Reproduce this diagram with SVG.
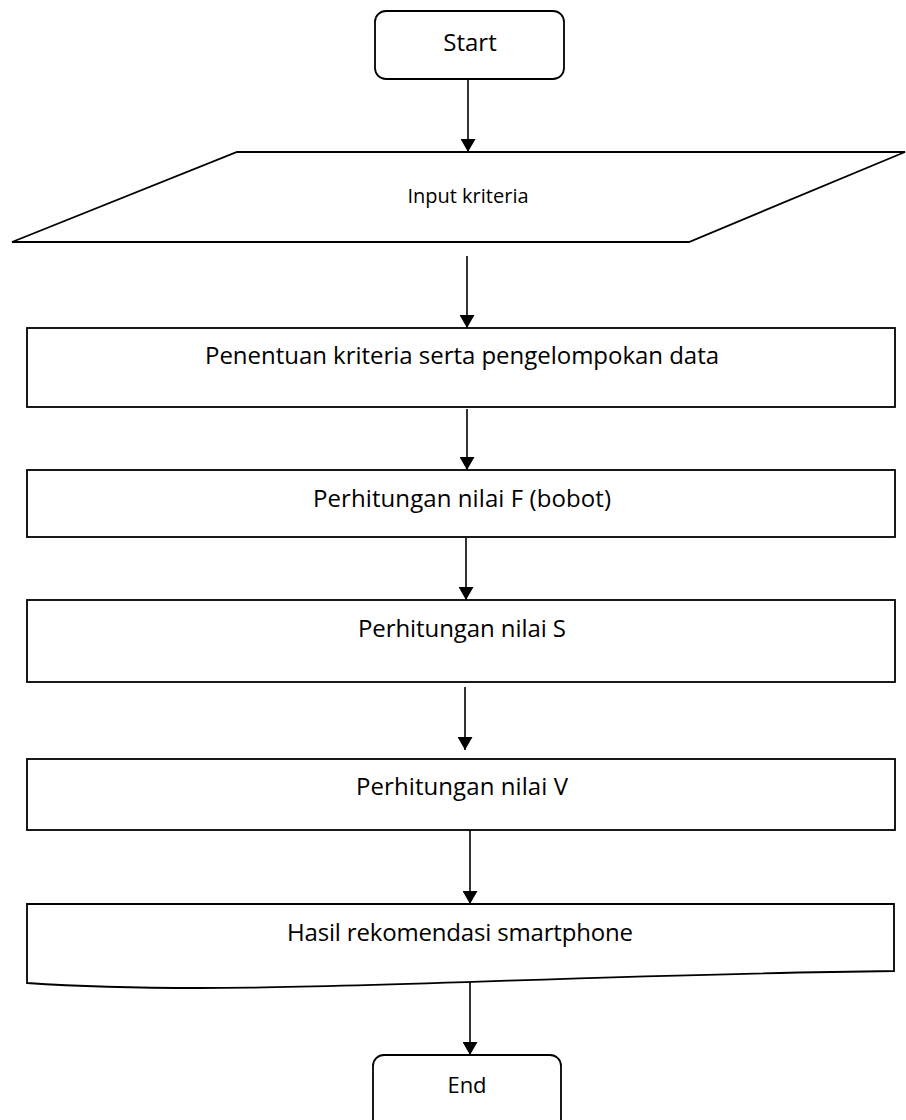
<svg xmlns="http://www.w3.org/2000/svg" width="906" height="1120" viewBox="0 0 906 1120">
  <style>
    .shape { fill: #ffffff; stroke: #000000; stroke-width: 1.8; }
    .label { font-family: "Open Sans", "Noto Sans", "Liberation Sans", sans-serif; fill: #000000; text-anchor: middle; }
    .flow { stroke: #000000; stroke-width: 1.6; fill: none; marker-end: url(#arrow); }
  </style>
  <defs>
    <marker id="arrow" markerUnits="userSpaceOnUse" markerWidth="14" markerHeight="15" refX="13" refY="7.5" orient="auto">
      <path d="M0,0 L13,7.5 L0,15 z" fill="#000000"/>
    </marker>
  </defs>
  <rect width="906" height="1120" fill="#ffffff"/>

  <!-- connectors -->
  <g id="connectors">
    <line class="flow" x1="468" y1="75" x2="468" y2="152"/>
    <line class="flow" x1="467" y1="256" x2="467" y2="328"/>
    <line class="flow" x1="467" y1="409" x2="467" y2="470"/>
    <line class="flow" x1="466" y1="538" x2="466" y2="600"/>
    <line class="flow" x1="465" y1="687" x2="465" y2="750"/>
    <line class="flow" x1="470" y1="830" x2="470" y2="904"/>
    <line class="flow" x1="470" y1="982" x2="470" y2="1055"/>
  </g>

  <!-- terminator: start -->
  <g id="start">
    <rect class="shape" x="375" y="11" width="189" height="68" rx="11" ry="11"/>
    <text class="label" x="470" y="51" font-size="24">Start</text>
  </g>

  <!-- input data -->
  <g id="input">
    <polygon class="shape" points="237,152 905,152 689,242 12,242"/>
    <text class="label" x="468" y="203" font-size="20">Input kriteria</text>
  </g>

  <!-- process steps -->
  <g id="step-criteria">
    <rect class="shape" x="27" y="328" width="868" height="79"/>
    <text class="label" x="462" y="364" font-size="24" textLength="514" lengthAdjust="spacing">Penentuan kriteria serta pengelompokan data</text>
  </g>

  <g id="step-weight">
    <rect class="shape" x="27" y="470" width="868" height="67"/>
    <text class="label" x="462" y="507" font-size="24" textLength="298" lengthAdjust="spacing">Perhitungan nilai F (bobot)</text>
  </g>

  <g id="step-s">
    <rect class="shape" x="27" y="600" width="868" height="82"/>
    <text class="label" x="462" y="637" font-size="24" textLength="208" lengthAdjust="spacing">Perhitungan nilai S</text>
  </g>

  <g id="step-v">
    <rect class="shape" x="27" y="759" width="868" height="71"/>
    <text class="label" x="462" y="795" font-size="24" textLength="212" lengthAdjust="spacing">Perhitungan nilai V</text>
  </g>

  <!-- output document -->
  <g id="result">
    <path class="shape" d="M27,904 L894,904 L894,971 C520,975 250,998 27,983 Z"/>
    <text class="label" x="460" y="941" font-size="24" textLength="346" lengthAdjust="spacing">Hasil rekomendasi smartphone</text>
  </g>

  <!-- terminator: end -->
  <g id="end">
    <rect class="shape" x="373" y="1055" width="188" height="80" rx="11" ry="11"/>
    <text class="label" x="467" y="1093" font-size="22">End</text>
  </g>
</svg>
